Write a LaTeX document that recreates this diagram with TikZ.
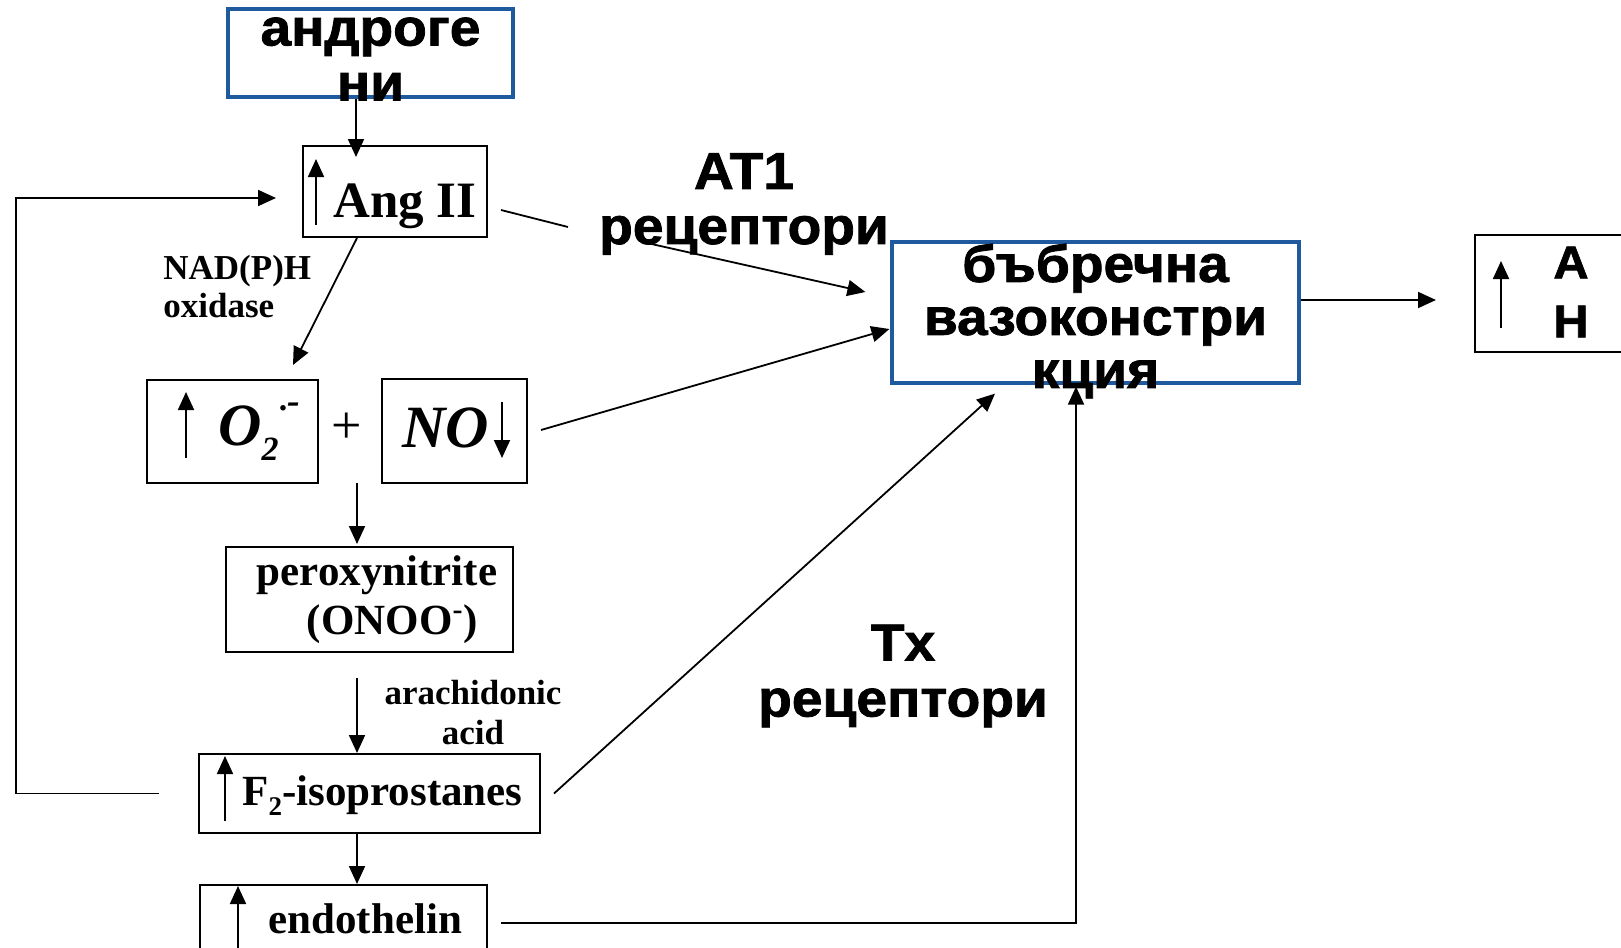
\documentclass[tikz,border=0pt]{standalone}
\usepackage{fontspec}
\setmainfont{Liberation Serif}
\setsansfont{Liberation Sans}[BoldFeatures={FakeBold=1.5, FakeStretch=1.06}]
\usetikzlibrary{arrows.meta}
\definecolor{boxblue}{RGB}{31,89,158}
\tikzset{
  box/.style={draw, line width=1pt, inner sep=0pt},
  bluebox/.style={draw=boxblue, line width=1.6pt, inner sep=0pt},
  arr/.style={line width=0.9pt, -{Triangle[length=9pt,width=8pt]}},
  cyr/.style={font=\sffamily\bfseries\fontsize{26}{27.5}\selectfont, align=center, inner sep=0pt},
  bio/.style={font=\bfseries\fontsize{21.5}{22}\selectfont, inner sep=0pt},
  note/.style={font=\bfseries\fontsize{17.5}{19}\selectfont, inner sep=0pt}
}

\begin{document}
\begin{tikzpicture}[x=0.5pt,y=-0.5pt]
\useasboundingbox (0,0) rectangle (1621,947);
\clip (0,0) rectangle (1621,947);

% boxes
\node[bluebox, minimum width=142.5pt, minimum height=44pt] (andro) at (370.5,53) {};
\node[box, minimum width=92pt, minimum height=45.5pt] (ang) at (395,191.5) {};
\node[box, minimum width=85.5pt, minimum height=51.5pt] (o2) at (232.5,431.5) {};
\node[box, minimum width=72.5pt, minimum height=52pt] (no) at (454.5,431) {};
\node[box, minimum width=143.5pt, minimum height=52.5pt] (perox) at (369.5,599.5) {};
\node[box, minimum width=170.5pt, minimum height=39.5pt] (f2) at (369.5,793.5) {};
\node[box, minimum width=143.5pt, minimum height=38pt] (endo) at (343.5,923) {};
\node[bluebox, minimum width=203.5pt, minimum height=70.5pt] (bvk) at (1095.5,312.5) {};
\node[box, minimum width=92.5pt, minimum height=58.5pt] (ah) at (1567.5,293.5) {};

% texts
\node[cyr] (androtxt) at (370.5,59) {андроге\\ни};
\node[bio, font=\bfseries\fontsize{25.5}{26}\selectfont, anchor=base west] (angtxt) at (333,217) {Ang II};
\node[note, align=left, anchor=west] (nadph) at (163,287) {NAD(P)H\\oxidase};
\node[bio, font=\bfseries\itshape\fontsize{30}{30}\selectfont, anchor=base west] (o2txt) at (218,445)
  {O\raisebox{-7.5pt}{\fontsize{17}{17}\selectfont 2}\raisebox{13pt}{\fontsize{17}{17}\selectfont ·}\raisebox{16pt}{\fontsize{19}{19}\selectfont -}};
\node[font=\fontsize{27}{27}\selectfont, inner sep=0pt] (plus) at (347,428) {+};
\node[bio, font=\bfseries\itshape\fontsize{30}{30}\selectfont, anchor=base west] (notxt) at (402,447) {NO};
\node[bio, align=left, font=\bfseries\fontsize{21.5}{24.5}\selectfont] (peroxtxt) at (377,600) {peroxynitrite\\\hspace*{25pt}(ONOO\textsuperscript{-})};
\node[note, align=center, font=\bfseries\fontsize{17.5}{20}\selectfont] (arach) at (473,713) {arachidonic\\acid};
\node[bio, anchor=base west] (f2txt) at (242,805) {F\raisebox{-5pt}{\fontsize{13.5}{13.5}\selectfont 2}-isoprostanes};
\node[bio, anchor=base west] (endotxt) at (268,933) {endothelin};
\node[cyr] (at1) at (744,204) {AT1\\рецептори};
\node[cyr, font=\sffamily\bfseries\fontsize{26}{26.5}\selectfont] (bvktxt) at (1095.5,321) {бъбречна\\вазоконстри\\кция};
\node[cyr, font=\sffamily\bfseries\fontsize{26}{28}\selectfont] (tx) at (903,676) {Tx\\рецептори};
\node[cyr, font=\sffamily\bfseries\fontsize{23}{29.5}\selectfont] (ahtxt) at (1571,292) {А\\Н};

% connectors
\coordinate (at1a) at (568,227);
\coordinate (at1b) at (647,243);
\coordinate (fbk) at (16,198);
\draw[arr] ([shift={(-14.5,0)}]andro.south) -- ([shift={(-39,12)}]ang.north);
\draw[line width=0.9pt] ([shift={(13,18.5)}]ang.east) -- (at1a);
\draw[arr] (at1b) -- ([shift={(-25,-20.5)}]bvk.west);
\draw[arr] ([shift={(-38,0)}]ang.south) -- ([shift={(60.5,-14)}]o2.north);
\draw[arr] ([shift={(13,-1)}]no.east) -- ([shift={(-1,16.5)}]bvk.west);
\draw[arr] ([shift={(10,55)}]plus.center) -- ([shift={(-12.5,-2)}]perox.north);
\draw[arr] ([shift={(-12.5,25)}]perox.south) -- ([shift={(-12.5,0)}]f2.north);
\draw[arr] ([shift={(-12.5,0)}]f2.south) -- ([shift={(13.5,0)}]endo.north);
\draw[arr] ([shift={(13,0)}]f2.east) -- ([shift={(-100.5,9)}]bvk.south);
\draw[arr] ([shift={(13,0)}]endo.east) -| ([shift={(-19.5,2)}]bvk.south);
\draw[arr] ([shift={(0,-12.5)}]bvk.east) -- ([shift={(-38,6.5)}]ah.west);
\draw[arr] ([shift={(-39,0)}]f2.west) -| (fbk) -- ([shift={(-26,6.5)}]ang.west);

% arrows inside the boxes
\draw[arr] ([shift={(14,-13)}]ang.south west) -- ([shift={(14,14)}]ang.north west);
\draw[arr] ([shift={(40,-26)}]o2.south west) -- ([shift={(40,13)}]o2.north west);
\draw[arr] ([shift={(-26,24)}]no.north east) -- ([shift={(-26,-26)}]no.south east);
\draw[arr] ([shift={(27,-13)}]f2.south west) -- ([shift={(27,3)}]f2.north west);
\draw[arr] ([shift={(39,0)}]endo.south west) -- ([shift={(39,2)}]endo.north west);
\draw[arr] ([shift={(27,-25)}]ah.south west) -- ([shift={(27,27)}]ah.north west);
\end{tikzpicture}
\end{document}
